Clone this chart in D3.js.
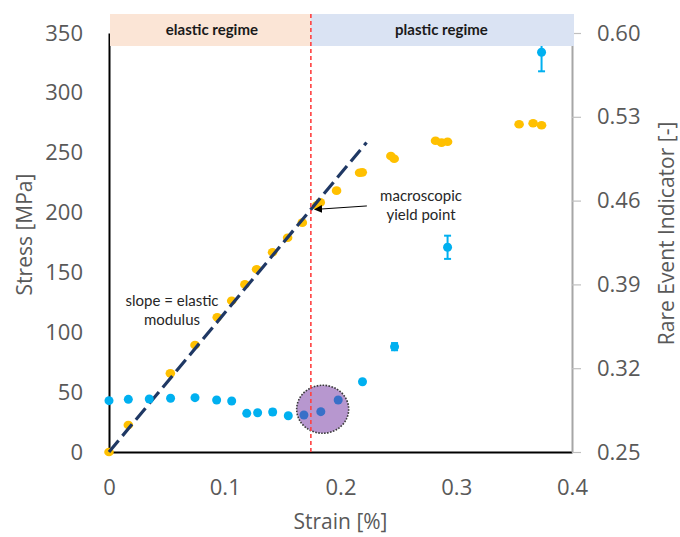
<!DOCTYPE html>
<html>
<head>
<meta charset="utf-8">
<script src="https://cdn.jsdelivr.net/npm/d3@7"></script>
<style>
  html, body { margin: 0; padding: 0; background: #ffffff; }
  svg { display: block; }
</style>
</head>
<body>
<svg id="chart" width="680" height="537"></svg>
<script>
// Stress–strain curve (left axis)
const strain = [0.000, 0.0167, 0.053, 0.0743, 0.0935, 0.106, 0.1174, 0.1275, 0.1413, 0.1543, 0.167,
                0.1795, 0.1825, 0.1966, 0.2165, 0.2188, 0.2435, 0.2464, 0.2821, 0.2873, 0.2925,
                0.3543, 0.3664, 0.3737];
const stress = [0, 22.5, 65.7, 89.4, 112.5, 126.4, 140, 152.6, 166.8, 179, 191.6,
                206, 208.5, 218.3, 233.3, 233.6, 247.3, 245, 260, 258.4, 259.2,
                273.8, 274.6, 272.9];

// Rare event indicator with error (right axis)
const reiStrain = [0.000, 0.0167, 0.0348, 0.0532, 0.0743, 0.093, 0.106, 0.119, 0.1284, 0.1414,
                   0.1549, 0.1684, 0.183, 0.198, 0.219, 0.2467, 0.2925, 0.3737];
const reiValue  = [0.2929, 0.294, 0.2943, 0.2949, 0.2954, 0.2934, 0.2926, 0.2823, 0.2828, 0.2834,
                   0.2803, 0.2809, 0.2837, 0.2934, 0.3087, 0.338, 0.421, 0.5839];
const reiError  = [0, 0, 0, 0, 0, 0, 0, 0, 0, 0.002,
                   0, 0, 0, 0, 0, 0.003, 0.0097, 0.0159];

// Linear elastic fit and yield point
const modulusLine = [[0, 0], [0.2225, 258.5]];
const yieldStrain = 0.1744;
const clusterCenter = [0.1846, 0.2857];

// Axis ticks
const strainTicks = [0, 0.1, 0.2, 0.3, 0.4];
const stressTicks = [0, 50, 100, 150, 200, 250, 300, 350];
const reiTicks = [0.25, 0.32, 0.39, 0.46, 0.53, 0.60];

const margin = { top: 33, right: 108, bottom: 85, left: 109 };
const W = 680, H = 537;
const iw = W - margin.left - margin.right;
const ih = H - margin.top - margin.bottom;

const svg = d3.select("#chart");
const g = svg.append("g").attr("transform", `translate(${margin.left},${margin.top})`);

const x = d3.scaleLinear().domain([0, 0.4]).range([0, iw]);
const y = d3.scaleLinear().domain([0, 350]).range([ih, 0]);
const yR = d3.scaleLinear().domain([0.25, 0.60]).range([ih, 0]);

const axisFont = "'Open Sans', 'Noto Sans', sans-serif";
const noteFont = "Lato, 'Open Sans', sans-serif";
const textGrey = "#595959";

// Axes
const gx = g.append("g").attr("transform", `translate(0,${ih})`)
  .call(d3.axisBottom(x).tickValues(strainTicks).tickSize(0).tickPadding(27).tickFormat(d => String(d)));
gx.select(".domain").attr("stroke", "#000").attr("stroke-width", 2);

const gy = g.append("g")
  .call(d3.axisLeft(y).tickValues(stressTicks).tickSize(0).tickPadding(26));
gy.select(".domain").attr("stroke", "#000").attr("stroke-width", 2);

const gr = g.append("g").attr("transform", `translate(${iw},0)`)
  .call(d3.axisRight(yR).tickValues(reiTicks).tickSize(9).tickSizeOuter(0).tickPadding(16)
        .tickFormat(d3.format(".2f")));
gr.select(".domain").attr("stroke", "#A6A6A6").attr("stroke-width", 2);
gr.selectAll(".tick line").attr("stroke", "#BFBFBF").attr("stroke-width", 1.2);

[gx, gy, gr].forEach(a => a.selectAll(".tick text")
  .attr("fill", textGrey).style("font-family", axisFont).style("font-size", "22px"));

// Axis titles
g.append("text").attr("x", iw / 2).attr("y", ih + 77)
  .attr("text-anchor", "middle").attr("fill", textGrey)
  .style("font-family", axisFont).style("font-size", "21px").text("Strain [%]");
g.append("text").attr("transform", `translate(${-109 + 32},${ih / 2 - 8}) rotate(-90)`)
  .attr("text-anchor", "middle").attr("fill", textGrey)
  .style("font-family", axisFont).style("font-size", "21px").text("Stress [MPa]");
g.append("text").attr("transform", `translate(${iw + 102},${ih / 2 - 9}) rotate(-90)`)
  .attr("text-anchor", "middle").attr("fill", textGrey)
  .style("font-family", axisFont).style("font-size", "21px").text("Rare Event Indicator [-]");

// Stress–strain points
const ssData = strain.map((s, i) => ({ s, v: stress[i] }));
g.append("g").selectAll("ellipse").data(ssData).join("ellipse")
  .attr("cx", d => x(d.s)).attr("cy", d => y(d.v))
  .attr("rx", 4.8).attr("ry", 4.3)
  .attr("fill", "#FFC000");

// Elastic modulus fit
g.append("path")
  .datum(modulusLine)
  .attr("d", d3.line().x(d => x(d[0])).y(d => y(d[1])))
  .attr("fill", "none").attr("stroke", "#1F3864").attr("stroke-width", 3.2)
  .attr("stroke-dasharray", "15 6");

// Rare event indicator points and error bars
const blue = "#00B0F0";
const reiData = reiStrain.map((s, i) => ({ s, v: reiValue[i], e: reiError[i] }));
const eb = g.append("g").selectAll("g").data(reiData.filter(d => d.e > 0)).join("g")
  .attr("stroke", blue).attr("stroke-width", 2);
eb.append("line").attr("x1", d => x(d.s)).attr("x2", d => x(d.s))
  .attr("y1", d => yR(d.v - d.e)).attr("y2", d => yR(d.v + d.e));
eb.append("line").attr("x1", d => x(d.s) - 3.5).attr("x2", d => x(d.s) + 3.5)
  .attr("y1", d => yR(d.v - d.e)).attr("y2", d => yR(d.v - d.e));
eb.append("line").attr("x1", d => x(d.s) - 3.5).attr("x2", d => x(d.s) + 3.5)
  .attr("y1", d => yR(d.v + d.e)).attr("y2", d => yR(d.v + d.e));
g.append("g").selectAll("circle").data(reiData).join("circle")
  .attr("cx", d => x(d.s)).attr("cy", d => yR(d.v)).attr("r", 4.5)
  .attr("fill", blue);

// Highlighted cluster around the yield point
g.append("ellipse")
  .attr("cx", x(clusterCenter[0])).attr("cy", yR(clusterCenter[1]))
  .attr("rx", 26).attr("ry", 24)
  .attr("fill", "#7030A0").attr("fill-opacity", 0.5)
  .attr("stroke", "#3A3A3A").attr("stroke-width", 1.6).attr("stroke-dasharray", "1.6 1.4");

// Regime bands
const bandTop = -19, bandH = 32;
g.append("rect").attr("x", 1).attr("y", bandTop)
  .attr("width", x(yieldStrain) - 1).attr("height", bandH).attr("fill", "#FBE5D6");
g.append("rect").attr("x", x(yieldStrain)).attr("y", bandTop)
  .attr("width", iw + 2 - x(yieldStrain)).attr("height", bandH).attr("fill", "#DAE3F3");
g.append("text").attr("x", x(yieldStrain / 2) + 2).attr("y", bandTop + bandH / 2 + 5)
  .attr("text-anchor", "middle").attr("fill", "#1a1a1a")
  .style("font-family", noteFont).style("font-weight", "bold").style("font-size", "15px")
  .text("elastic regime");
g.append("text").attr("x", (x(yieldStrain) + iw) / 2).attr("y", bandTop + bandH / 2 + 5)
  .attr("text-anchor", "middle").attr("fill", "#1a1a1a")
  .style("font-family", noteFont).style("font-weight", "bold").style("font-size", "15px")
  .text("plastic regime");

// Yield boundary
g.append("line")
  .attr("x1", x(yieldStrain)).attr("x2", x(yieldStrain))
  .attr("y1", bandTop).attr("y2", ih)
  .attr("stroke", "#FF4040").attr("stroke-width", 1.6).attr("stroke-dasharray", "4 3");

// Annotations
svg.append("defs").append("marker")
  .attr("id", "arrowhead").attr("viewBox", "0 0 10 10")
  .attr("refX", 9).attr("refY", 5).attr("markerWidth", 8).attr("markerHeight", 8)
  .attr("markerUnits", "userSpaceOnUse").attr("orient", "auto")
  .append("path").attr("d", "M0,0 L10,5 L0,10 z").attr("fill", "#000");

const yieldStress = modulusLine[1][1] / modulusLine[1][0] * yieldStrain;
g.append("line")
  .attr("x1", x(yieldStrain) + 56).attr("y1", y(yieldStress) - 3.5)
  .attr("x2", x(yieldStrain) + 4).attr("y2", y(yieldStress))
  .attr("stroke", "#000").attr("stroke-width", 1)
  .attr("marker-end", "url(#arrowhead)");

const note = (lines, cx, cy) => {
  const t = g.append("text").attr("text-anchor", "middle").attr("fill", "#262626")
    .style("font-family", noteFont).style("font-size", "15px");
  lines.forEach((l, i) => t.append("tspan").attr("x", cx).attr("y", cy + i * 18.5).text(l));
};
note(["macroscopic", "yield point"], 421 - margin.left, 201 - margin.top);
note(["slope = elastic", "modulus"], 172 - margin.left, 306 - margin.top);
</script>
</body>
</html>
